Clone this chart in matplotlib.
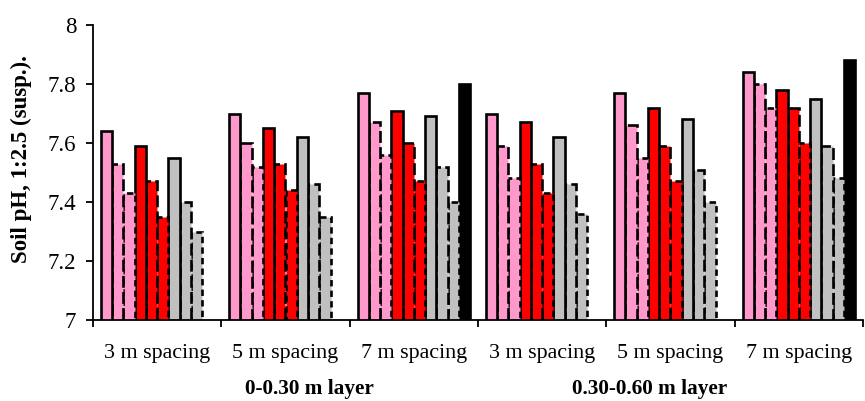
import numpy as np
import matplotlib
matplotlib.use("Agg")
from matplotlib import pyplot as plt

groups = ['3 m spacing', '5 m spacing', '7 m spacing',
          '3 m spacing', '5 m spacing', '7 m spacing']
layers = ['0-0.30 m layer', '0.30-0.60 m layer']

# ten series per group (three pinks, three reds, three greys, control)
pink_1 = [7.64, 7.70, 7.77, 7.70, 7.77, 7.84]
pink_2 = [7.53, 7.60, 7.67, 7.59, 7.66, 7.80]
pink_3 = [7.43, 7.52, 7.56, 7.48, 7.55, 7.72]
red_1 = [7.59, 7.65, 7.71, 7.67, 7.72, 7.78]
red_2 = [7.47, 7.53, 7.60, 7.53, 7.59, 7.72]
red_3 = [7.35, 7.44, 7.47, 7.43, 7.47, 7.60]
grey_1 = [7.55, 7.62, 7.69, 7.62, 7.68, 7.75]
grey_2 = [7.40, 7.46, 7.52, 7.46, 7.51, 7.59]
grey_3 = [7.30, 7.35, 7.40, 7.36, 7.40, 7.48]
control = [np.nan, np.nan, 7.80, np.nan, np.nan, 7.88]

series = [pink_1, pink_2, pink_3, red_1, red_2, red_3,
          grey_1, grey_2, grey_3, control]
colors = ['#FF99CC'] * 3 + ['#FF0000'] * 3 + ['#C0C0C0'] * 3 + ['black']
styles = ['-', (0, (4.5, 1.6)), (0, (2.4, 1.6))] * 3 + ['-']

plt.rcParams['font.family'] = ['Liberation Serif', 'DejaVu Serif']

fig = plt.figure(figsize=(8.65, 4.01), dpi=100)
ax = fig.add_axes([93 / 865, 81 / 401, 770 / 865, 295 / 401])

n = len(series)
w = 0.0877
x = np.arange(len(groups))
for j, vals in enumerate(series):
    vals = np.array(vals, dtype=float)
    ok = ~np.isnan(vals)
    ax.bar(x[ok] + 0.5 + (j - (n - 1) / 2) * w, vals[ok], width=w,
           color=colors[j], edgecolor='black', linewidth=1.9,
           linestyle=styles[j], zorder=2 + (n - j) * 0.01)

ax.set_xlim(0, len(groups))
ax.set_ylim(7, 8)
ax.set_yticks(np.arange(7, 8.01, 0.2))
ax.set_yticklabels(['7', '7.2', '7.4', '7.6', '7.8', '8'])
ax.set_xticks(np.arange(0, len(groups) + 1))
ax.set_xticklabels([])
ax.set_xticks(x + 0.5, minor=True)
ax.set_xticklabels(groups, minor=True)
ax.tick_params(axis='x', which='minor', length=0, pad=17, labelsize=15.8)
ax.tick_params(axis='x', which='major', length=5, width=1.3, direction='out')
ax.tick_params(axis='y', length=5, width=1.3, direction='out', labelsize=16.5, pad=7)
ax.spines['top'].set_visible(False)
ax.spines['right'].set_visible(False)
ax.spines['left'].set_linewidth(1.3)
ax.spines['bottom'].set_linewidth(1.3)

fig.text(21 / 865, 1 - 159 / 401, 'Soil pH, 1:2.5 (susp.).', rotation=90,
         ha='center', va='center', fontsize=16.5, fontweight='bold')

for pos, name in zip([1.69, 4.34], layers):
    ax.text(pos, -0.268, name, transform=ax.get_xaxis_transform(),
            ha='center', va='bottom', fontsize=15.3, fontweight='bold')

fig.savefig('out.png', dpi=100)
